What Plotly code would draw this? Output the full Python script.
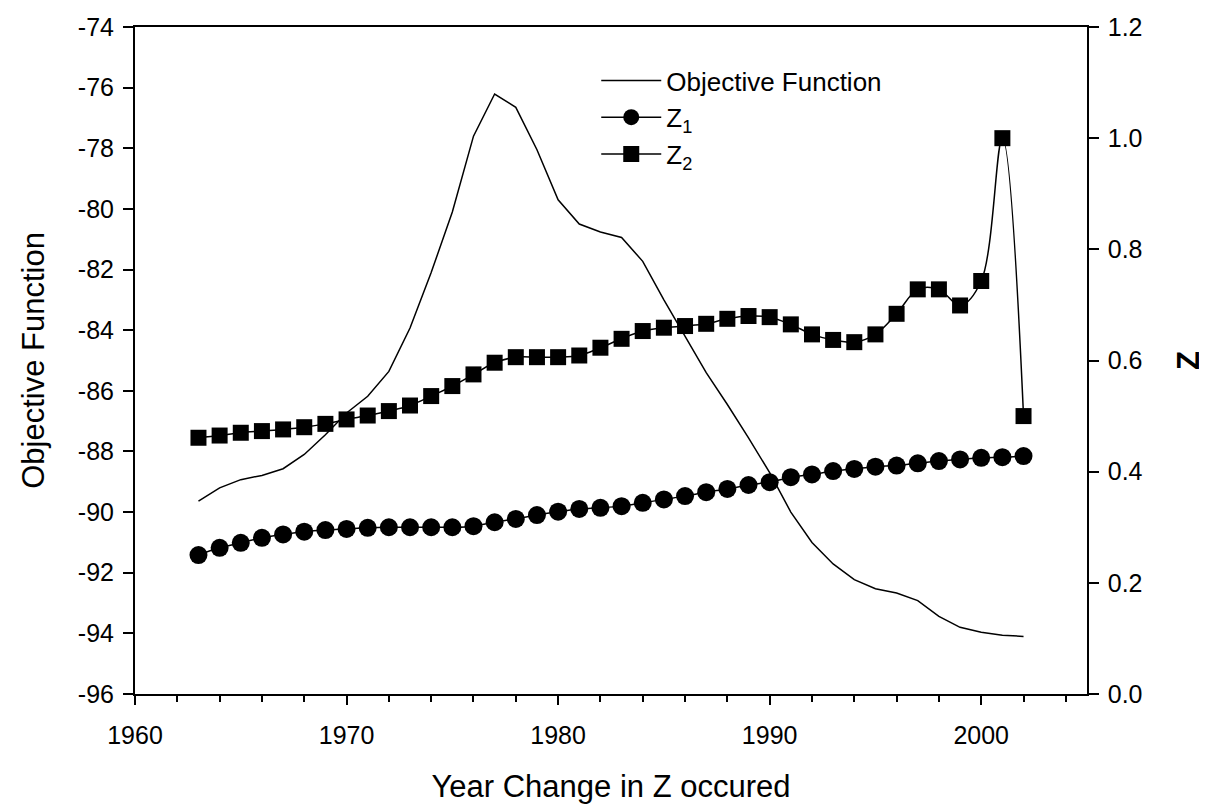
import plotly.graph_objects as go

# years where the change in Z occurred
years = list(range(1963, 2003))

objective = [-89.64, -89.2, -88.93, -88.79, -88.57, -88.1, -87.45, -86.73, -86.18, -85.36,
             -83.93, -82.1, -80.1, -77.6, -76.21, -76.65, -78.05, -79.7, -80.5, -80.76,
             -80.94, -81.73, -83.0, -84.2, -85.4, -86.45, -87.55, -88.7, -90.0, -91.0,
             -91.71, -92.23, -92.53, -92.67, -92.92, -93.44, -93.8, -93.96, -94.06, -94.1]

z1 = [0.250, 0.263, 0.272, 0.281, 0.287, 0.292, 0.295, 0.297, 0.299, 0.300,
      0.300, 0.300, 0.300, 0.302, 0.309, 0.315, 0.322, 0.328, 0.333, 0.335,
      0.338, 0.344, 0.350, 0.356, 0.363, 0.369, 0.376, 0.381, 0.390, 0.395,
      0.401, 0.405, 0.409, 0.411, 0.415, 0.419, 0.422, 0.425, 0.426, 0.428]

z2 = [0.461, 0.465, 0.470, 0.473, 0.476, 0.480, 0.486, 0.494, 0.501, 0.509,
      0.519, 0.536, 0.554, 0.575, 0.596, 0.606, 0.606, 0.606, 0.609, 0.623,
      0.639, 0.653, 0.659, 0.662, 0.666, 0.675, 0.680, 0.678, 0.665, 0.647,
      0.637, 0.633, 0.647, 0.684, 0.728, 0.728, 0.699, 0.743, 1.000, 0.500]

# left axis ticks, written with a plain hyphen like the original
obj_ticks = [-96, -94, -92, -90, -88, -86, -84, -82, -80, -78, -76, -74]
obj_labels = ["-96", "-94", "-92", "-90", "-88", "-86", "-84", "-82", "-80", "-78", "-76", "-74"]

FONT = "Liberation Sans, Arial, sans-serif"

fig = go.Figure()

fig.add_trace(go.Scatter(x=years, y=objective, name="Objective Function", mode="lines",
                         line=dict(color="black", width=1.5)))
fig.add_trace(go.Scatter(x=years, y=z1, name="Z<sub>1</sub>", mode="lines+markers", yaxis="y2",
                         line=dict(color="black", width=1.5, shape="spline"),
                         marker=dict(symbol="circle", size=18, color="black")))
fig.add_trace(go.Scatter(x=years, y=z2, name="Z<sub>2</sub>", mode="lines+markers", yaxis="y2",
                         line=dict(color="black", width=1.5, shape="spline"),
                         marker=dict(symbol="square", size=16, color="black")))

fig.update_layout(
    width=1207, height=804,
    margin=dict(l=127, r=128, t=19, b=118),
    paper_bgcolor="white", plot_bgcolor="white",
    font=dict(family=FONT, size=25, color="black"),
    showlegend=True,
    legend=dict(x=0.4845, y=0.955, xanchor="left", yanchor="top",
                bgcolor="rgba(0,0,0,0)", font=dict(size=26), itemwidth=60,
                tracegroupgap=0),
    xaxis=dict(
        range=[1960, 2005], dtick=10, tick0=1960, automargin=False,
        showgrid=False, zeroline=False,
        showline=True, linecolor="black", linewidth=2, mirror=True,
        ticks="outside", ticklen=9, tickwidth=1.5, tickcolor="black", ticklabelstandoff=9,
        minor=dict(dtick=2, ticks="outside", ticklen=6, tickwidth=1.5, tickcolor="black"),
        title=dict(text="Year Change in Z occured", font=dict(size=31), standoff=27),
    ),
    yaxis=dict(
        range=[-96, -74], tickvals=obj_ticks, ticktext=obj_labels, automargin=False,
        showgrid=False, zeroline=False,
        showline=True, linecolor="black", linewidth=2,
        ticks="outside", ticklen=10, tickwidth=1.5, tickcolor="black", ticklabelstandoff=4,
        title=dict(text="Objective Function", font=dict(size=31), standoff=24),
    ),
    yaxis2=dict(
        range=[0, 1.2], dtick=0.2, tickformat=".1f", automargin=False,
        overlaying="y", side="right",
        showgrid=False, zeroline=False,
        showline=True, linecolor="black", linewidth=1.5,
        ticks="outside", ticklen=10, tickwidth=1.5, tickcolor="black", ticklabelstandoff=4,
        title=dict(text="<b>Z</b>", font=dict(size=31), standoff=36),
    ),
)

fig.write_html("out.html")
